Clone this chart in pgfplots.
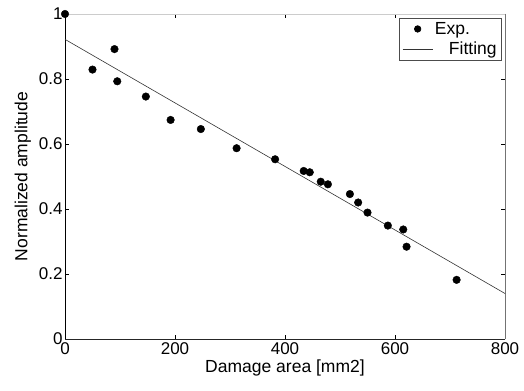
\documentclass[border=0pt]{standalone}
\usepackage{fontspec}
\setmainfont{Liberation Sans}
\usepackage{pgfplots}
\pgfplotsset{compat=1.18}
\begin{document}
\begin{tikzpicture}
\begin{axis}[
  scale only axis, width=440pt, height=325pt,
  xmin=0, xmax=800, ymin=0, ymax=1,
  xtick={0,200,400,600,800},
  ytick={0,0.2,0.4,0.6,0.8,1},
  yticklabels={0,0.2,0.4,0.6,0.8,1},
  tick align=inside, major tick length=4pt,
  tick style={black, line width=0.5pt},
  /pgf/number format/assume math mode=true,
  tick label style={font=\fontsize{17}{20}\selectfont},
  label style={font=\fontsize{17.5}{20}\selectfont},
  xticklabel style={yshift=0pt},
  yticklabel style={xshift=1pt},
  xlabel={Damage area [mm2]},
  ylabel={Normalized amplitude},
  xlabel style={yshift=2pt},
  ylabel style={yshift=1pt},
  axis line style={draw=none},
  clip=false,
  legend style={at={(0.993,0.988)}, anchor=north east, draw=black!70, line width=0.6pt,
    font=\fontsize{17.5}{20}\selectfont, inner xsep=3pt, inner ysep=2pt, row sep=2pt},
  legend cell align=left,
]
\draw[black, line width=0.6pt] (rel axis cs:0,0) -- (rel axis cs:0,1);
\draw[black!85, line width=0.6pt] (rel axis cs:0,0) -- (rel axis cs:1,0);
\draw[black!55, line width=0.6pt] (rel axis cs:1,0) -- (rel axis cs:1,1);
\draw[black!20, line width=0.8pt] (rel axis cs:0,1) -- (rel axis cs:1,1);
\addplot[only marks, mark=*, mark size=3.8pt, black,
  legend image code/.code={\fill[black] (15pt,0pt) circle (3.3pt);}] coordinates {
(0,1.0) (50,0.829) (90,0.892) (95,0.793) (147,0.746) (192,0.674)
(247,0.646) (312,0.587) (382,0.553) (434,0.517) (445,0.513) (465,0.484)
(478,0.476) (518,0.446) (533,0.42) (550,0.389) (587,0.349) (615,0.337)
(621,0.284) (712,0.182)
};
\addlegendentry{Exp.}
\addplot[black!80, line width=0.6pt, no marks,
  legend image code/.code={\draw[black!80, line width=0.6pt] (0pt,0pt) -- (30pt,0pt);}] coordinates {(0,0.922) (800,0.14)};
\addlegendentry{\hspace{14pt}Fitting}
\end{axis}
\path ([shift={(-65pt,-51pt)}]current axis.south west) rectangle ([shift={(19pt,14pt)}]current axis.north east);
\end{tikzpicture}
\end{document}
